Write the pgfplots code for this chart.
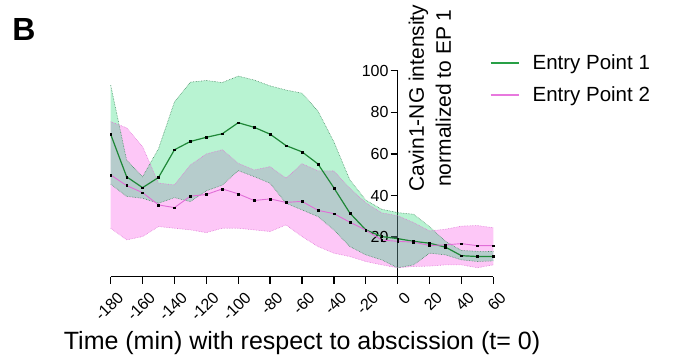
\documentclass[border=0pt]{standalone}
\usepackage{pgfplots}
\pgfplotsset{compat=1.18}
\usepackage{pgfplotstable}
\usepgfplotslibrary{fillbetween}
\usepackage{fontspec}
\setmainfont{Liberation Sans}
\definecolor{epgreen}{RGB}{30,135,55}
\definecolor{eppink}{RGB}{225,110,215}
\definecolor{leggreen}{RGB}{40,160,70}
\definecolor{legpink}{RGB}{232,120,222}
\definecolor{bandgreen}{RGB}{20,215,105}
\definecolor{bandpink}{RGB}{245,0,218}
\definecolor{edgegreen}{RGB}{70,140,100}
\definecolor{edgepink}{RGB}{225,120,215}

\pgfplotstableread{
x     g     gu    gl    p     pu    pl
-180  69.4  93.0  45.5  49.9  75.5  24.3
-170  49.0  57.0  39.6  44.8  72.5  18.7
-160  43.8  49.0  38.7  41.4  63.5  20.3
-150  48.7  62.5  36.3  35.5  46.0  25.1
-140  62.0  85.0  39.0  34.2  45.1  24.3
-130  66.0  94.5  37.1  39.7  54.7  23.5
-120  68.0  95.3  42.3  40.5  60.0  22.2
-110  69.7  94.3  45.0  43.2  62.0  24.3
-100  75.0  97.4  52.0  40.8  55.5  24.3
-90   72.8  95.5  49.1  37.6  52.3  23.5
-80   69.5  92.7  45.9  38.4  53.9  22.7
-70   64.0  90.7  36.3  36.7  48.3  25.9
-60   61.0  89.2  33.1  37.2  55.3  20.3
-50   55.2  80.6  29.9  32.9  51.9  15.5
-40   43.7  65.8  23.5  31.3  51.8  12.3
-30   31.6  47.5  15.5  27.2  43.5  10.7
-20   23.5  37.8  11.5  23.4  36.5   8.3
-10   20.3  33.4   9.1  18.6  31.7   6.7
0     19.3  31.8   5.3  18.0  30.3   5.3
10    18.0  31.0   6.7  17.6  27.0   5.9
20    17.1  25.0  12.3  16.0  23.0   6.1
30    15.2  18.0  11.5  16.3  23.8   6.7
40    11.1  13.6   9.1  16.9  25.3   6.7
50    10.7  13.2   8.3  15.9  25.6   5.3
60    10.7  13.1   8.6  15.9  24.5   6.7
}\data

\begin{document}
\begin{tikzpicture}
\begin{axis}[
  at={(110.7pt,81.3pt)}, anchor=south west,
  scale only axis, width=382.6pt, height=206pt,
  xmin=-180, xmax=60, ymin=1, ymax=100,
  axis x line=bottom, axis y line=middle,
  axis line style={-, line width=1.4pt, black},
  xtick={-180,-160,...,60}, ytick={20,40,60,80,100},
  hide obscured x ticks=false, hide obscured y ticks=false,
  tick align=outside, major tick length=7pt,
  tick style={line width=1.4pt, black},
  tick label style={font=\fontsize{16}{16}\selectfont},
  /pgf/number format/assume math mode=true,
  xticklabel style={rotate=45, anchor=east, inner sep=0pt, yshift=-15pt, xshift=-1pt},
  yticklabel style={inner sep=2pt},
  xlabel={Time (min) with respect to abscission (t= 0)},
  every axis x label/.style={at={(axis description cs:0.5,0)}, anchor=base, yshift=-73pt, font=\fontsize{25}{25}\selectfont},
  ylabel={Cavin1-NG intensity\\normalized to EP 1},
  every axis y label/.style={at={(axis description cs:0.8345,0.8675)}, anchor=center, rotate=90, align=center, font=\fontsize{21}{27}\selectfont},
  legend style={at={(axis description cs:0.99,1.088)}, anchor=north west, draw=none, fill=none,
    font=\fontsize{20.5}{20.5}\selectfont, row sep=12pt, inner sep=0pt},
  legend cell align=left,
  clip=false,
]
% band boundaries (paths)
\addplot[name path=pu, draw=none, forget plot] table[x=x,y=pu]{\data};
\addplot[name path=pl, draw=none, forget plot] table[x=x,y=pl]{\data};
\addplot[name path=gu, draw=none, forget plot] table[x=x,y=gu]{\data};
\addplot[name path=gl, draw=none, forget plot] table[x=x,y=gl]{\data};
% fills
\addplot[fill=bandpink, fill opacity=0.22, draw=none, forget plot] fill between[of=pu and pl];
\addplot[fill=bandgreen, fill opacity=0.30, draw=none, forget plot] fill between[of=gu and gl];
% dotted edges
\addplot[edgepink, densely dotted, line width=0.6pt, forget plot] table[x=x,y=pu]{\data};
\addplot[edgepink, densely dotted, line width=0.6pt, forget plot] table[x=x,y=pl]{\data};
\addplot[edgegreen, densely dotted, line width=0.6pt, forget plot] table[x=x,y=gu]{\data};
\addplot[edgegreen, densely dotted, line width=0.6pt, forget plot] table[x=x,y=gl]{\data};
% mean lines
\addplot[epgreen, line width=1.2pt, no marks, forget plot] table[x=x,y=g]{\data};
\addplot[eppink, line width=0.9pt, no marks, forget plot] table[x=x,y=p]{\data};
% mean markers
\addplot[only marks, mark=square*, mark size=0.9pt, mark options={fill=black, draw=black}, forget plot] table[x=x,y=g]{\data};
\addplot[only marks, mark=square*, mark size=0.9pt, mark options={fill=black, draw=black}, forget plot] table[x=x,y=p]{\data};
% legend entries
\addlegendimage{legend image code/.code={\draw[draw=leggreen, line width=1.8pt, opacity=1] (0pt,0pt) -- (28pt,0pt); \path[draw=none, fill=none] (0pt,-3pt) rectangle (40pt,3pt);}}
\addlegendentry{Entry Point 1}
\addlegendimage{legend image code/.code={\draw[draw=legpink, line width=1.8pt, opacity=1] (0pt,0pt) -- (28pt,0pt); \path[draw=none, fill=none] (0pt,-3pt) rectangle (40pt,3pt);}}
\addlegendentry{Entry Point 2}
\end{axis}
\node[font=\bfseries\fontsize{32}{32}\selectfont] at (24pt,329pt) {B};
\path (0,0) rectangle (680pt,358pt);
\end{tikzpicture}
\end{document}
